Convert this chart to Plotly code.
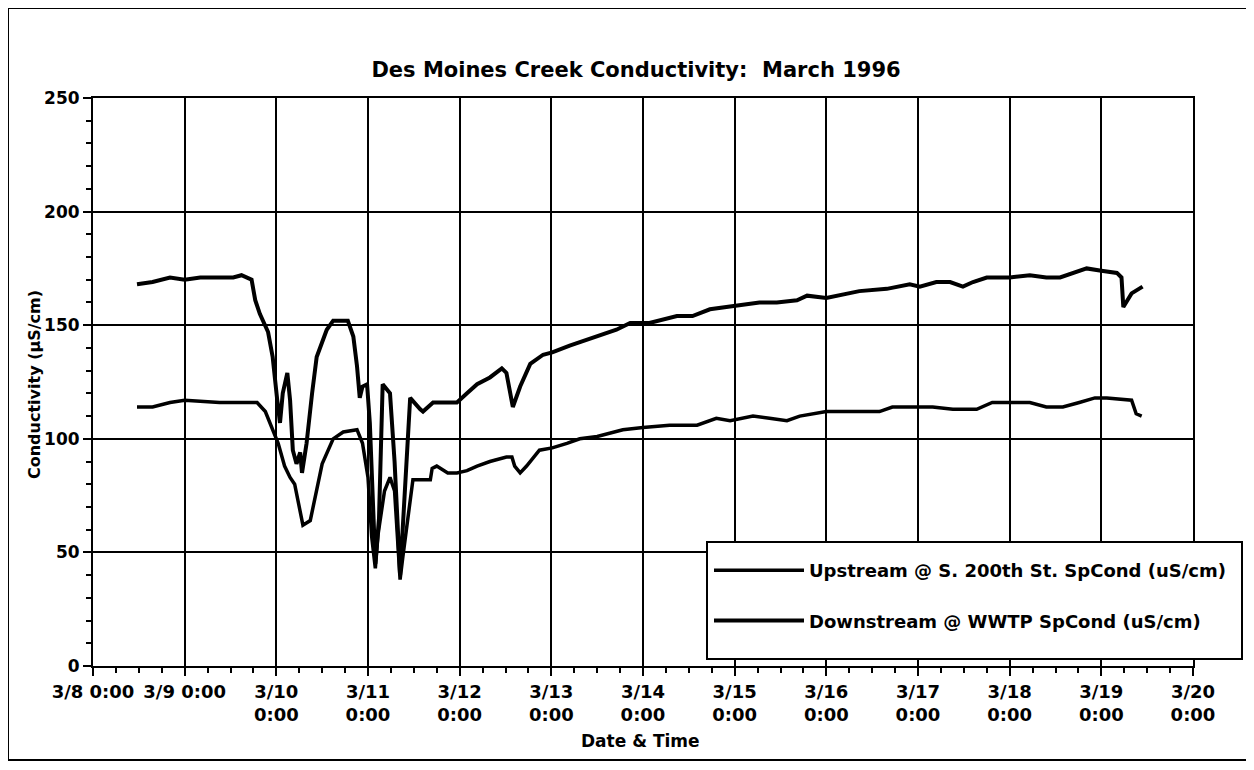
import pandas as pd
import plotly.graph_objects as go

# times are day-of-March (8.5 = 3/8 12:00), values in uS/cm
down_day = [8.48, 8.65, 8.84, 9.00, 9.17, 9.38, 9.53, 9.62, 9.73, 9.77, 9.82, 9.91, 9.96,
            10.01, 10.04, 10.07, 10.12, 10.15, 10.18, 10.22, 10.26, 10.28, 10.33, 10.39,
            10.44, 10.55, 10.62, 10.78, 10.84, 10.88, 10.91, 10.94, 10.99, 11.02, 11.05,
            11.08, 11.12, 11.16, 11.24, 11.29, 11.35, 11.39, 11.46, 11.57, 11.60, 11.71,
            11.86, 11.97, 12.08, 12.19, 12.33, 12.46, 12.51, 12.58, 12.66, 12.77, 12.91,
            13.01, 13.20, 13.50, 13.71, 13.86, 14.07, 14.37, 14.54, 14.73, 14.91, 15.27,
            15.46, 15.68, 15.79, 16.00, 16.36, 16.66, 16.91, 17.02, 17.20, 17.35, 17.49,
            17.60, 17.75, 18.00, 18.22, 18.40, 18.55, 18.69, 18.84, 19.00, 19.17, 19.22,
            19.24, 19.33, 19.45]
down_val = [168, 169, 171, 170, 171, 171, 171, 172, 170, 161, 155, 147, 136,
            117, 107, 120, 129, 117, 95, 89, 94, 85, 98, 120,
            136, 148, 152, 152, 145, 132, 118, 123, 124, 107, 70,
            45, 65, 124, 120, 90, 40, 70, 118, 113, 112, 116,
            116, 116, 120, 124, 127, 131, 129, 114, 123, 133, 137,
            138, 141, 145, 148, 151, 151, 154, 154, 157, 158, 160,
            160, 161, 163, 162, 165, 166, 168, 167, 169, 169, 167,
            169, 171, 171, 172, 171, 171, 173, 175, 174, 173, 171,
            158, 164, 167]

up_day = [8.48, 8.65, 8.84, 9.00, 9.38, 9.68, 9.79, 9.88, 9.95, 10.02, 10.09, 10.15,
          10.20, 10.26, 10.29, 10.37, 10.44, 10.50, 10.62, 10.73, 10.88, 10.94, 11.00,
          11.04, 11.08, 11.11, 11.18, 11.24, 11.29, 11.35, 11.38, 11.44, 11.49, 11.54,
          11.68, 11.70, 11.75, 11.87, 11.97, 12.08, 12.19, 12.33, 12.51, 12.57, 12.60,
          12.66, 12.73, 12.87, 13.01, 13.17, 13.31, 13.50, 13.78, 14.00, 14.29, 14.59,
          14.80, 14.95, 15.20, 15.38, 15.57, 15.71, 16.00, 16.29, 16.58, 16.72, 16.94,
          17.16, 17.38, 17.64, 17.81, 18.22, 18.40, 18.58, 18.76, 18.93, 19.06, 19.33,
          19.38, 19.44]
up_val = [114, 114, 116, 117, 116, 116, 116, 112, 105, 98, 88, 83,
          80, 67, 62, 64, 77, 89, 100, 103, 104, 98, 83,
          57, 43, 58, 77, 83, 77, 38, 48, 66, 82, 82,
          82, 87, 88, 85, 85, 86, 88, 90, 92, 92, 88,
          85, 88, 95, 96, 98, 100, 101, 104, 105, 106, 106,
          109, 108, 110, 109, 108, 110, 112, 112, 112, 114, 114,
          114, 113, 113, 116, 116, 114, 114, 116, 118, 118, 117,
          111, 110]

tick_days = list(range(8, 21))
tick_text = ["3/8 0:00", "3/9 0:00"] + ["3/%d<br>0:00" % d for d in range(10, 21)]

names = ["Upstream @ S. 200th St. SpCond (uS/cm)", "Downstream @ WWTP SpCond (uS/cm)"]

FONT = "DejaVu Sans"
OFF = 8  # page body margin
W, H = 1254 - 2 * OFF, 770 - 2 * OFF
# plot area in screen pixels: x 93..1193, y 98..666
L, T = 93 - OFF, 98 - OFF
R, B = W - (1193 - OFF), H - (666 - OFF)
pw, ph = W - L - R, H - T - B


def to_time(days):
    return pd.Timestamp("1996-03-01") + pd.to_timedelta([d - 1 for d in days], unit="D")


def px_x(p):
    return (p - OFF - L) / pw


def px_y(p):
    return (H - B - (p - OFF)) / ph


fig = go.Figure()
fig.add_trace(go.Scatter(x=to_time(up_day), y=up_val, name=names[0], mode="lines",
                         legendgroup="a", line=dict(color="black", width=3.5)))
fig.add_trace(go.Scatter(x=to_time(down_day), y=down_val, name=names[1], mode="lines",
                         legendgroup="b", line=dict(color="black", width=4)))

tickvals = to_time(tick_days)
bold = dict(family=FONT, color="black", weight="bold")

common_x = dict(type="date", range=[tickvals[0], tickvals[-1]], tickvals=tickvals,
                linecolor="black", linewidth=2, tickcolor="black", tickwidth=2,
                automargin=False, zeroline=False)
common_y = dict(range=[0, 250], tickvals=[0, 50, 100, 150, 200, 250],
                linecolor="black", linewidth=2, tickcolor="black", tickwidth=2,
                automargin=False, zeroline=False)

fig.update_layout(
    template="none",
    width=W, height=H,
    margin=dict(l=L, r=R, t=T, b=B),
    paper_bgcolor="white", plot_bgcolor="white",
    font=dict(family=FONT, color="black"),
    title=dict(text="Des Moines Creek Conductivity:\u00a0 March 1996",
               x=px_x(636), xref="paper", xanchor="center",
               y=1 - (70 - OFF) / H, yanchor="middle",
               font=dict(**bold, size=21)),
    xaxis=dict(**common_x, ticktext=tick_text, showgrid=True, gridcolor="black", gridwidth=2,
               showline=True, mirror=True, ticks="outside", ticklen=8,
               tickfont=dict(**bold, size=18),
               minor=dict(dtick=6 * 3600 * 1000, ticks="outside", ticklen=5,
                          tickwidth=1.5, tickcolor="black", showgrid=False)),
    xaxis2=dict(**common_x, overlaying="x", matches="x", anchor="y", showgrid=False,
                showline=False, ticks="inside", ticklen=6, showticklabels=False,
                minor=dict(dtick=6 * 3600 * 1000, ticks="inside", ticklen=5,
                           tickwidth=1.5, tickcolor="black", showgrid=False)),
    yaxis=dict(**common_y, showgrid=True, gridcolor="black", gridwidth=2,
               showline=True, mirror=True, ticks="outside", ticklen=8,
               tickfont=dict(**bold, size=17),
               minor=dict(dtick=10, ticks="outside", ticklen=5, tickwidth=1.5,
                          tickcolor="black", showgrid=False)),
    yaxis2=dict(**common_y, overlaying="y", matches="y", anchor="x", showgrid=False,
                showline=False, ticks="inside", ticklen=6, showticklabels=False,
                minor=dict(dtick=10, ticks="inside", ticklen=5, tickwidth=1.5,
                           tickcolor="black", showgrid=False)),
    legend=dict(x=px_x(709), y=px_y(552), xanchor="left", yanchor="top",
                bgcolor="rgba(0,0,0,0)", borderwidth=0,
                tracegroupgap=24, itemwidth=90,
                font=dict(**bold, size=18)),
    showlegend=True,
)

fig.add_annotation(text="Conductivity (µS/cm)", xref="paper", yref="paper",
                   x=px_x(35), y=px_y(385), textangle=-90, showarrow=False,
                   xanchor="center", yanchor="middle",
                   font=dict(**bold, size=16))
fig.add_annotation(text="Date & Time", xref="paper", yref="paper",
                   x=px_x(640), y=px_y(741), showarrow=False,
                   xanchor="center", yanchor="middle",
                   font=dict(**bold, size=17))

# legend box (white, covers the grid like the original)
fig.add_shape(type="rect", xref="paper", yref="paper",
              x0=px_x(707), x1=px_x(1242), y0=px_y(659), y1=px_y(542),
              line=dict(color="black", width=2), fillcolor="white", layer="above")
# outer frame around the whole chart
fig.add_shape(type="rect", xref="paper", yref="paper",
              x0=px_x(8), x1=px_x(1247), y0=px_y(760), y1=px_y(8),
              line=dict(color="black", width=2), layer="below")

fig.write_html("out.html")
